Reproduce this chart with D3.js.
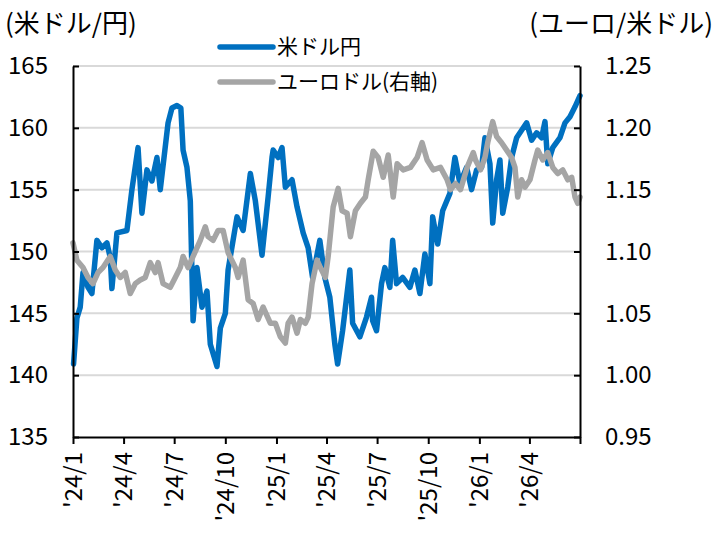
<!DOCTYPE html>
<html>
<head>
<meta charset="utf-8">
<script src="https://cdn.jsdelivr.net/npm/d3@7"></script>
<style>
  body { margin: 0; background: #fff; }
  text { font-family: "Noto Sans CJK JP", "Noto Sans", sans-serif; fill: #000; }
</style>
</head>
<body>
<div id="chart"></div>
<script>
// USD/JPY (left axis)
var usdjpy = [
  ['2024-01-02', 140.9], ['2024-01-08', 144.6], ['2024-01-14', 145.5], ['2024-01-19', 148.3],
  ['2024-01-28', 147.1], ['2024-02-04', 146.6], ['2024-02-13', 150.9], ['2024-02-22', 150.3],
  ['2024-03-02', 150.7], ['2024-03-08', 149.5], ['2024-03-11', 147.0], ['2024-03-20', 151.5],
  ['2024-04-07', 151.7], ['2024-04-16', 155.0], ['2024-04-27', 158.4], ['2024-05-04', 153.1],
  ['2024-05-13', 156.6], ['2024-05-22', 155.7], ['2024-05-31', 157.6], ['2024-06-06', 155.0],
  ['2024-06-20', 160.4], ['2024-06-27', 161.6], ['2024-07-06', 161.8], ['2024-07-13', 161.6],
  ['2024-07-17', 158.2], ['2024-07-24', 156.8], ['2024-07-30', 154.1], ['2024-08-04', 144.4],
  ['2024-08-11', 148.7], ['2024-08-20', 145.5], ['2024-08-29', 146.8], ['2024-09-04', 142.5],
  ['2024-09-16', 140.7], ['2024-09-22', 143.8], ['2024-10-01', 145.0], ['2024-10-06', 148.5],
  ['2024-10-22', 152.8], ['2024-11-02', 151.7], ['2024-11-15', 156.3], ['2024-11-24', 154.1],
  ['2024-12-06', 149.7], ['2024-12-17', 154.4], ['2024-12-24', 157.6], ['2024-12-26', 158.2],
  ['2025-01-04', 157.6], ['2025-01-11', 158.4], ['2025-01-17', 155.2], ['2025-01-29', 155.8],
  ['2025-02-07', 153.6], ['2025-02-18', 151.5], ['2025-02-27', 150.3], ['2025-03-07', 147.9],
  ['2025-03-20', 150.9], ['2025-03-29', 147.9], ['2025-04-07', 146.3], ['2025-04-16', 142.5],
  ['2025-04-21', 140.9], ['2025-04-30', 143.6], ['2025-05-13', 148.5], ['2025-05-18', 144.2],
  ['2025-05-31', 143.1], ['2025-06-12', 144.7], ['2025-06-21', 146.3], ['2025-06-23', 144.4],
  ['2025-06-30', 143.6], ['2025-07-09', 147.4], ['2025-07-15', 148.7], ['2025-07-24', 147.1],
  ['2025-07-29', 150.9], ['2025-08-05', 147.4], ['2025-08-16', 147.9], ['2025-08-29', 147.1],
  ['2025-09-07', 148.5], ['2025-09-16', 146.6], ['2025-09-25', 149.8], ['2025-10-04', 147.4],
  ['2025-10-09', 152.8], ['2025-10-18', 150.6], ['2025-10-27', 153.3], ['2025-11-09', 154.7],
  ['2025-11-18', 157.6], ['2025-11-27', 155.5], ['2025-12-09', 156.8], ['2025-12-18', 155.0],
  ['2025-12-27', 156.6], ['2026-01-05', 156.8], ['2026-01-11', 159.2], ['2026-01-20', 157.1],
  ['2026-01-25', 152.3], ['2026-02-01', 155.8], ['2026-02-07', 157.4], ['2026-02-12', 153.1],
  ['2026-02-21', 155.2], ['2026-02-28', 157.6], ['2026-03-09', 159.2], ['2026-03-18', 159.8],
  ['2026-03-27', 160.4], ['2026-04-05', 159.0], ['2026-04-14', 159.6], ['2026-04-23', 159.2],
  ['2026-04-29', 160.5], ['2026-05-04', 157.1], ['2026-05-13', 158.4], ['2026-05-26', 159.2],
  ['2026-06-04', 160.4], ['2026-06-13', 160.9], ['2026-06-22', 161.7], ['2026-07-01', 162.6]
];

// EUR/USD (right axis)
var eurusd = [
  ['2024-01-01', 1.107], ['2024-01-08', 1.093], ['2024-01-19', 1.087], ['2024-01-28', 1.079],
  ['2024-02-06', 1.074], ['2024-02-15', 1.083], ['2024-02-24', 1.087], ['2024-03-08', 1.096],
  ['2024-03-17', 1.085], ['2024-03-26', 1.079], ['2024-04-04', 1.083], ['2024-04-13', 1.066],
  ['2024-04-22', 1.074], ['2024-05-01', 1.077], ['2024-05-10', 1.079], ['2024-05-19', 1.091],
  ['2024-05-28', 1.083], ['2024-06-02', 1.091], ['2024-06-11', 1.074], ['2024-06-24', 1.071],
  ['2024-07-03', 1.079], ['2024-07-12', 1.087], ['2024-07-17', 1.096], ['2024-07-26', 1.087],
  ['2024-08-04', 1.096], ['2024-08-17', 1.109], ['2024-08-26', 1.120], ['2024-08-31', 1.112],
  ['2024-09-09', 1.109], ['2024-09-18', 1.117], ['2024-09-27', 1.117], ['2024-10-06', 1.099],
  ['2024-10-19', 1.087], ['2024-10-24', 1.079], ['2024-11-02', 1.093], ['2024-11-11', 1.061],
  ['2024-11-20', 1.058], ['2024-11-29', 1.045], ['2024-12-08', 1.055], ['2024-12-21', 1.042],
  ['2024-12-30', 1.042], ['2025-01-08', 1.031], ['2025-01-17', 1.026], ['2025-01-22', 1.042],
  ['2025-01-29', 1.047], ['2025-02-07', 1.034], ['2025-02-13', 1.045], ['2025-02-22', 1.042],
  ['2025-02-27', 1.047], ['2025-03-06', 1.074], ['2025-03-15', 1.093], ['2025-03-21', 1.087],
  ['2025-03-30', 1.079], ['2025-04-04', 1.096], ['2025-04-13', 1.136], ['2025-04-22', 1.151],
  ['2025-04-29', 1.133], ['2025-05-08', 1.131], ['2025-05-14', 1.112], ['2025-05-23', 1.133],
  ['2025-06-01', 1.139], ['2025-06-10', 1.144], ['2025-06-15', 1.158], ['2025-06-24', 1.181],
  ['2025-07-03', 1.176], ['2025-07-12', 1.160], ['2025-07-21', 1.178], ['2025-07-30', 1.144],
  ['2025-08-06', 1.171], ['2025-08-17', 1.166], ['2025-08-30', 1.168], ['2025-09-11', 1.176],
  ['2025-09-20', 1.188], ['2025-09-29', 1.174], ['2025-10-10', 1.166], ['2025-10-23', 1.168],
  ['2025-11-04', 1.158], ['2025-11-10', 1.150], ['2025-11-19', 1.155], ['2025-11-28', 1.150],
  ['2025-12-10', 1.168], ['2025-12-21', 1.180], ['2025-12-25', 1.174], ['2026-01-03', 1.166],
  ['2026-01-11', 1.176], ['2026-01-16', 1.188], ['2026-01-25', 1.205], ['2026-02-01', 1.193],
  ['2026-02-10', 1.188], ['2026-02-19', 1.182], ['2026-02-28', 1.176], ['2026-03-06', 1.168],
  ['2026-03-11', 1.144], ['2026-03-18', 1.158], ['2026-03-24', 1.152], ['2026-04-02', 1.158],
  ['2026-04-11', 1.174], ['2026-04-16', 1.182], ['2026-04-25', 1.174], ['2026-05-04', 1.180],
  ['2026-05-13', 1.168], ['2026-05-22', 1.163], ['2026-05-31', 1.166], ['2026-06-09', 1.158],
  ['2026-06-16', 1.160], ['2026-06-22', 1.144], ['2026-06-27', 1.139], ['2026-07-01', 1.144]
];

var leftTicks = [135, 140, 145, 150, 155, 160, 165];
var rightTicks = [0.95, 1.00, 1.05, 1.10, 1.15, 1.20, 1.25];
var xTickDates = ['2024-01-01', '2024-04-01', '2024-07-01', '2024-10-01', '2025-01-01',
  '2025-04-01', '2025-07-01', '2025-10-01', '2026-01-01', '2026-04-01', '2026-07-01'];
var xTickLabels = ["'24/1", "'24/4", "'24/7", "'24/10", "'25/1", "'25/4", "'25/7",
  "'25/10", "'26/1", "'26/4", ""];
var seriesNames = ['米ドル円', 'ユーロドル(右軸)'];

var chart_width = 715, chart_height = 533;
var plot_left = 73, plot_right = 580, plot_top = 66, plot_bottom = 437;
var parse = d3.timeParse('%Y-%m-%d');

var svg = d3.select('#chart').append('svg')
  .attr('width', chart_width)
  .attr('height', chart_height);

var x = d3.scaleTime()
  .domain([parse('2024-01-01'), parse('2026-07-01')])
  .range([plot_left, plot_right]);

var yL = d3.scaleLinear().domain([135, 165]).range([plot_bottom, plot_top]);
var yR = d3.scaleLinear().domain([0.95, 1.25]).range([plot_bottom, plot_top]);

// gridlines
svg.append('g').selectAll('line')
  .data(leftTicks.slice(1))
  .enter().append('line')
  .attr('x1', plot_left).attr('x2', plot_right)
  .attr('y1', function(d) { return yL(d); })
  .attr('y2', function(d) { return yL(d); })
  .attr('stroke', '#d9d9d9')
  .attr('stroke-width', 2);

// lines
var lineL = d3.line()
  .x(function(d) { return x(parse(d[0])); })
  .y(function(d) { return yL(d[1]); });
var lineR = d3.line()
  .x(function(d) { return x(parse(d[0])); })
  .y(function(d) { return yR(d[1]); });

svg.append('path').datum(usdjpy)
  .attr('d', lineL)
  .attr('fill', 'none')
  .attr('stroke', '#0070c0')
  .attr('stroke-width', 5.5)
  .attr('stroke-linejoin', 'round')
  .attr('stroke-linecap', 'round');

svg.append('path').datum(eurusd)
  .attr('d', lineR)
  .attr('fill', 'none')
  .attr('stroke', '#a5a5a5')
  .attr('stroke-width', 5.5)
  .attr('stroke-linejoin', 'round')
  .attr('stroke-linecap', 'round');

// axes
var axisL = svg.append('g')
  .attr('transform', 'translate(' + plot_left + ',0)')
  .call(d3.axisLeft(yL).tickValues(leftTicks).tickSize(-6).tickSizeOuter(0).tickPadding(25));
var axisR = svg.append('g')
  .attr('transform', 'translate(' + plot_right + ',0)')
  .call(d3.axisRight(yR).tickValues(rightTicks).tickSize(-6).tickSizeOuter(0).tickPadding(25)
    .tickFormat(d3.format('.2f')));
var axisX = svg.append('g')
  .attr('transform', 'translate(0,' + plot_bottom + ')')
  .call(d3.axisBottom(x).tickValues(xTickDates.map(parse)).tickSize(7).tickSizeOuter(0)
    .tickFormat(function(d, i) { return xTickLabels[i]; }));

[axisL, axisR, axisX].forEach(function(a) {
  a.selectAll('.domain').attr('stroke', '#000').attr('stroke-width', 2);
  a.selectAll('.tick line').attr('stroke', '#000').attr('stroke-width', 2);
  a.selectAll('text').style('font-size', '24px').attr('fill', '#000');
});

axisX.selectAll('text')
  .attr('transform', 'rotate(-90)')
  .attr('text-anchor', 'end')
  .attr('x', -15)
  .attr('y', 0)
  .attr('dy', '0.35em');

// axis titles
svg.append('text').attr('x', 5).attr('y', 33)
  .style('font-size', '26px').text('(米ドル/円)');
svg.append('text').attr('x', 713).attr('y', 33)
  .attr('text-anchor', 'end')
  .style('font-size', '26px').text('(ユーロ/米ドル)');

// legend
var legend = svg.append('g');
var legendColors = ['#0070c0', '#a5a5a5'];
seriesNames.forEach(function(name, i) {
  var ly = 47 + i * 35;
  legend.append('line')
    .attr('x1', 220).attr('x2', 273)
    .attr('y1', ly).attr('y2', ly)
    .attr('stroke', legendColors[i])
    .attr('stroke-width', 5.5)
    .attr('stroke-linecap', 'round');
  legend.append('text')
    .attr('x', 277).attr('y', ly)
    .attr('dy', '0.35em')
    .style('font-size', '21px')
    .text(name);
});
</script>
</body>
</html>
